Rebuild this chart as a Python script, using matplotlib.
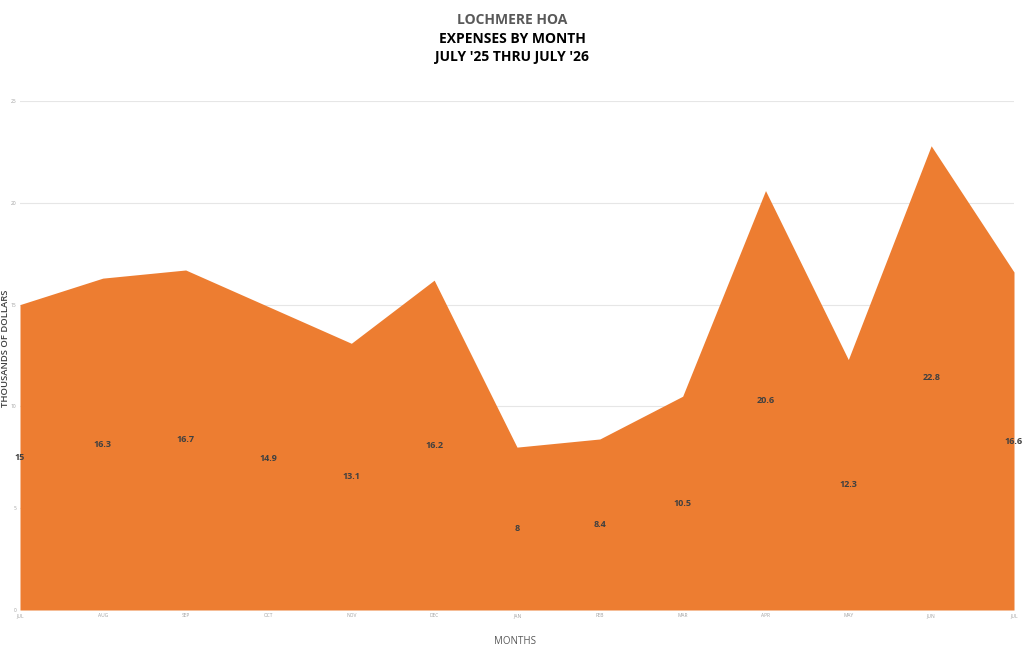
import matplotlib
matplotlib.use("Agg")
import matplotlib.pyplot as plt

months = ["JUL", "AUG", "SEP", "OCT", "NOV", "DEC", "JAN", "FEB", "MAR", "APR", "MAY", "JUN", "JUL"]
expenses = [15, 16.3, 16.7, 14.9, 13.1, 16.2, 8, 8.4, 10.5, 20.6, 12.3, 22.8, 16.6]
y_ticks = [0, 5, 10, 15, 20, 25]

plt.rcParams['font.family'] = ['Open Sans', 'DejaVu Sans']

fig = plt.figure(figsize=(10.24, 6.5), dpi=100)
ax = fig.add_axes([20 / 1024, 40 / 650, 994 / 1024, 509 / 650])

x = list(range(len(months)))
ax.fill_between(x, expenses, 0, color="#ED7D31", linewidth=0, zorder=2)

# labels in the middle of the area, like Excel does
for xi, v in zip(x, expenses):
    ax.text(xi, v / 2, f"{v:g}", ha="center", va="center", fontsize=6.5,
            fontweight="bold", color="#404040", zorder=3, clip_on=False)

ax.set_xlim(0, len(months) - 1)
ax.set_ylim(0, 25)
ax.set_yticks(y_ticks)
ax.set_xticks(x)
ax.set_xticklabels(months)
ax.tick_params(axis="both", length=0, labelsize=3.5, colors="#a0a0a0", pad=2.5)
ax.grid(axis="y", color="#e6e6e6", linewidth=0.8, zorder=1)
for s in ax.spines.values():
    s.set_visible(False)

fig.text(5.5 / 1024, 1 - 348 / 650, "THOUSANDS OF DOLLARS", rotation=90,
         ha="center", va="center", fontsize=6.8, fontweight="semibold", color="#404040")
fig.text(515 / 1024, 1 - 641 / 650, "MONTHS", ha="center", va="center",
         fontsize=7, color="#595959")

fig.text(0.5, 1 - 20 / 650, "LOCHMERE HOA", ha="center", va="center",
         fontsize=10, fontweight="bold", color="#595959")
fig.text(0.5, 1 - 39 / 650, "EXPENSES BY MONTH", ha="center", va="center",
         fontsize=10, fontweight="bold", color="black")
fig.text(0.5, 1 - 57 / 650, "JULY '25 THRU JULY '26", ha="center", va="center",
         fontsize=10, fontweight="bold", color="black")

fig.savefig("out.png", dpi=100)
